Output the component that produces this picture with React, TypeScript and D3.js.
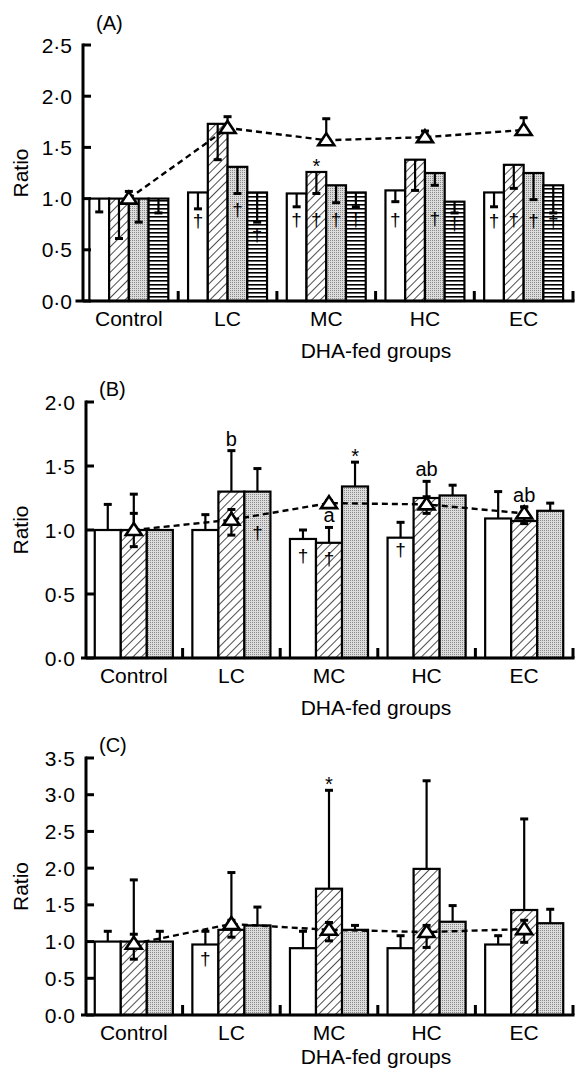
import React from 'react';
import * as d3 from 'd3';

const FONT = '"Liberation Sans", Arial, Helvetica, sans-serif';

const groups = ['Control', 'LC', 'MC', 'HC', 'EC'];

// ---------- Panel A (4 bars per group; error bars point down into the bars) ----------
const aWhite = [1.0, 1.06, 1.05, 1.08, 1.06];
const aWhiteErr = [0.87, 0.9, 0.92, 0.97, 0.92];
const aWhiteDag = [null, 0.78, 0.79, 0.79, 0.78];
const aHatch = [1.0, 1.73, 1.26, 1.38, 1.33];
const aHatchErr = [0.61, 1.38, 1.05, 1.08, 1.1];
const aHatchDag = [null, null, 0.79, null, 0.79];
const aDot = [1.0, 1.31, 1.13, 1.25, 1.25];
const aDotErr = [0.77, 1.05, 0.96, 1.13, 0.99];
const aDotDag = [null, 0.89, 0.79, 0.8, 0.78];
const aStripe = [1.0, 1.06, 1.06, 0.97, 1.13];
const aStripeErr = [0.86, 0.77, 0.92, 0.86, 0.86];
const aStripeDag = [null, 0.64, 0.79, 0.75, 0.77];
const aLine = [1.0, 1.69, 1.57, 1.6, 1.67];
const aLineLo = [1.0, 1.69, 1.57, 1.6, 1.67];
const aLineHi = [1.07, 1.8, 1.78, 1.66, 1.79];
const aHatchStar = ['', '', '*', '', ''];
const aTicks = [0, 0.5, 1, 1.5, 2, 2.5];

// ---------- Panel B (3 bars per group) ----------
const bWhite = [1.0, 1.0, 0.93, 0.94, 1.09];
const bWhiteErr = [1.2, 1.12, 1.0, 1.06, 1.3];
const bWhiteDag = [null, null, 0.8, 0.84, null];
const bHatch = [1.0, 1.3, 0.9, 1.25, 1.07];
const bHatchErr = [1.28, 1.62, 1.02, 1.38, 1.18];
const bHatchDag = [null, null, 0.77, null, null];
const bHatchLetters = ['', 'b', 'a', 'ab', 'ab'];
const bDot = [1.0, 1.3, 1.34, 1.27, 1.15];
const bDotErr = [1.0, 1.48, 1.53, 1.35, 1.21];
const bDotDag = [null, 0.98, null, null, null];
const bDotStar = ['', '', '*', '', ''];
const bLine = [1.0, 1.08, 1.21, 1.2, 1.13];
const bLineLo = [0.87, 0.96, 1.19, 1.13, 1.05];
const bLineHi = [1.13, 1.16, 1.23, 1.26, 1.18];
const bTicks = [0, 0.5, 1, 1.5, 2];

// ---------- Panel C (3 bars per group) ----------
const cWhite = [1.0, 0.96, 0.91, 0.91, 0.96];
const cWhiteErr = [1.14, 1.14, 1.14, 1.08, 1.08];
const cWhiteDag = [null, 0.76, null, null, null];
const cHatch = [1.0, 1.16, 1.72, 1.99, 1.43];
const cHatchErr = [1.84, 1.94, 3.06, 3.19, 2.67];
const cHatchStar = ['', '', '*', '', ''];
const cDot = [1.0, 1.22, 1.16, 1.27, 1.25];
const cDotErr = [1.14, 1.47, 1.22, 1.49, 1.44];
const cLine = [0.97, 1.24, 1.16, 1.13, 1.17];
const cLineLo = [0.76, 1.06, 1.01, 0.92, 0.99];
const cLineHi = [1.1, 1.29, 1.26, 1.22, 1.29];
const cTicks = [0, 0.5, 1, 1.5, 2, 2.5, 3, 3.5];

const fmt = (v: number) => d3.format('.1f')(v).replace('.', '\u00b7');

type Series = {
  fill: string;
  vals: number[];
  err: (number | null)[];
  dag?: (number | null)[];
  top?: string[];
  star?: string[];
  starRef?: 'bar' | 'err';
};

type PanelProps = {
  label: string;
  yBottom: number;
  yTop: number;
  yMax: number;
  ticks: number[];
  axisX: number;
  xStart: number;
  xEnd: number;
  series: Series[];
  line: number[];
  lineLo: number[];
  lineHi: number[];
  labelY: number;
};

function Panel(p: PanelProps) {
  const y = d3.scaleLinear().domain([0, p.yMax]).range([p.yBottom, p.yTop]);
  const x = d3.scaleBand<string>().domain(groups).range([p.xStart, p.xEnd]);
  const bw = x.bandwidth();
  const inner = d3
    .scaleBand<number>()
    .domain(d3.range(p.series.length))
    .range([bw * 0.1, bw * 0.9]);
  const w = inner.bandwidth();
  const cx = (g: string) => (x(g) as number) + bw / 2;
  const lineGen = d3
    .line<number>()
    .x((_, i) => cx(groups[i]))
    .y((d) => y(d));
  const capW = 4;
  const tri = (px: number, py: number) =>
    `M${px},${py - 7} L${px + 8},${py + 5} L${px - 8},${py + 5} Z`;
  const mid = (p.yBottom + p.yTop) / 2;

  return (
    <g>
      {p.series.map((s, si) =>
        s.vals.map((v, gi) => {
          const bx = (x(groups[gi]) as number) + (inner(si) as number);
          return (
            <rect
              key={`b${si}-${gi}`}
              x={bx}
              y={y(v)}
              width={w}
              height={y(0) - y(v)}
              fill={s.fill}
              stroke="#000"
              strokeWidth={2.2}
            />
          );
        })
      )}
      {p.series.map((s, si) =>
        s.vals.map((v, gi) => {
          const e = s.err[gi];
          if (e == null || Math.abs(e - v) < 0.005) return null;
          const bx = (x(groups[gi]) as number) + (inner(si) as number) + w / 2;
          return (
            <g key={`e${si}-${gi}`}>
              <line x1={bx} x2={bx} y1={y(v)} y2={y(e)} stroke="#000" strokeWidth={2.2} />
              <line x1={bx - capW} x2={bx + capW} y1={y(e)} y2={y(e)} stroke="#000" strokeWidth={3} />
            </g>
          );
        })
      )}
      {p.series.map((s, si) =>
        (s.dag || []).map((d, gi) => {
          if (d == null) return null;
          const bx = (x(groups[gi]) as number) + (inner(si) as number) + w / 2;
          return (
            <text
              key={`d${si}-${gi}`}
              x={bx}
              y={y(d) + 6}
              textAnchor="middle"
              fontSize={19}
              fontFamily={FONT}
              fill="#000"
            >
              {'\u2020'}
            </text>
          );
        })
      )}
      {p.series.map((s, si) =>
        (s.top || []).map((t, gi) => {
          if (!t) return null;
          const bx = (x(groups[gi]) as number) + (inner(si) as number) + w / 2;
          const e = s.err[gi] ?? s.vals[gi];
          return (
            <text key={`t${si}-${gi}`} x={bx} y={y(e) - 5} textAnchor="middle" fontSize={20} fontFamily={FONT}>
              {t}
            </text>
          );
        })
      )}
      {p.series.map((s, si) =>
        (s.star || []).map((t, gi) => {
          if (!t) return null;
          const bx = (x(groups[gi]) as number) + (inner(si) as number) + w / 2;
          const ref = s.starRef === 'bar' ? s.vals[gi] : (s.err[gi] ?? s.vals[gi]);
          return (
            <text key={`s${si}-${gi}`} x={bx} y={y(ref) + 1} textAnchor="middle" fontSize={20} fontFamily={FONT}>
              {t}
            </text>
          );
        })
      )}
      <path d={lineGen(p.line) || ''} fill="none" stroke="#000" strokeWidth={2.4} strokeDasharray="6,4" />
      {p.line.map((v, gi) => {
        const px = cx(groups[gi]);
        const lo = p.lineLo[gi];
        const hi = p.lineHi[gi];
        return (
          <g key={`l${gi}`}>
            {hi - v > 0.005 && (
              <g>
                <line x1={px} x2={px} y1={y(v)} y2={y(hi)} stroke="#000" strokeWidth={2.2} />
                <line x1={px - capW} x2={px + capW} y1={y(hi)} y2={y(hi)} stroke="#000" strokeWidth={3} />
              </g>
            )}
            {v - lo > 0.005 && (
              <g>
                <line x1={px} x2={px} y1={y(v)} y2={y(lo)} stroke="#000" strokeWidth={2.2} />
                <line x1={px - capW} x2={px + capW} y1={y(lo)} y2={y(lo)} stroke="#000" strokeWidth={3} />
              </g>
            )}
            <path d={tri(px, y(v))} fill="#fff" stroke="#000" strokeWidth={2.6} strokeLinejoin="miter" />
          </g>
        );
      })}
      <line x1={p.axisX} x2={p.axisX} y1={y(p.yMax) - 1.5} y2={y(0)} stroke="#000" strokeWidth={3} />
      {p.ticks.map((t) => (
        <g key={`yt${t}`}>
          <line x1={p.axisX} x2={p.axisX + 8} y1={y(t)} y2={y(t)} stroke="#000" strokeWidth={3} />
          <text
            x={p.axisX - 11}
            y={y(t)}
            dy="0.36em"
            textAnchor="end"
            fontSize={21}
            fontFamily={FONT}
          >
            {fmt(t)}
          </text>
        </g>
      ))}
      <line x1={p.xStart - 4} x2={p.xEnd + 1.5} y1={y(0)} y2={y(0)} stroke="#000" strokeWidth={3} />
      {groups.map((g) => (
        <g key={`xt${g}`}>
          <line
            x1={(x(g) as number) + bw}
            x2={(x(g) as number) + bw}
            y1={y(0)}
            y2={y(0) - 10}
            stroke="#000"
            strokeWidth={3}
          />
          <text x={cx(g)} y={y(0) + 25} textAnchor="middle" fontSize={21} fontFamily={FONT}>
            {g}
          </text>
        </g>
      ))}
      <text x={376} y={Math.min(y(0) + 57, 1064)} textAnchor="middle" fontSize={21} fontFamily={FONT}>
        DHA-fed groups
      </text>
      <text
        transform={`translate(28,${mid}) rotate(-90)`}
        textAnchor="middle"
        fontSize={21}
        fontFamily={FONT}
      >
        Ratio
      </text>
      <text x={p.axisX + 13} y={p.labelY} fontSize={20} fontFamily={FONT}>
        {p.label}
      </text>
    </g>
  );
}

export default function App() {
  const WHITE = '#fff';
  const HATCH = 'url(#hatch)';
  const DOT = 'url(#stipple)';
  const STRIPE = 'url(#stripe)';

  const seriesA: Series[] = [
    { fill: WHITE, vals: aWhite, err: aWhiteErr, dag: aWhiteDag },
    { fill: HATCH, vals: aHatch, err: aHatchErr, dag: aHatchDag, star: aHatchStar, starRef: 'bar' },
    { fill: DOT, vals: aDot, err: aDotErr, dag: aDotDag },
    { fill: STRIPE, vals: aStripe, err: aStripeErr, dag: aStripeDag },
  ];
  const seriesB: Series[] = [
    { fill: WHITE, vals: bWhite, err: bWhiteErr, dag: bWhiteDag },
    { fill: HATCH, vals: bHatch, err: bHatchErr, dag: bHatchDag, top: bHatchLetters },
    { fill: DOT, vals: bDot, err: bDotErr, dag: bDotDag, star: bDotStar, starRef: 'err' },
  ];
  const seriesC: Series[] = [
    { fill: WHITE, vals: cWhite, err: cWhiteErr, dag: cWhiteDag },
    { fill: HATCH, vals: cHatch, err: cHatchErr, star: cHatchStar, starRef: 'err' },
    { fill: DOT, vals: cDot, err: cDotErr },
  ];

  return (
    <div style={{ position: 'absolute', left: 0, top: 0, opacity: 0.999 }}>
      <svg width={576} height={1070} style={{ display: 'block', background: '#fff' }}>
        <defs>
          <pattern id="hatch" patternUnits="userSpaceOnUse" width={6} height={6} patternTransform="rotate(45)">
            <rect width={6} height={6} fill="#fff" />
            <line x1={0} y1={0} x2={0} y2={6} stroke="#000" strokeWidth={1.4} />
          </pattern>
          <pattern id="stipple" patternUnits="userSpaceOnUse" width={2} height={2}>
            <rect width={2} height={2} fill="#dcdcdc" />
            <rect width={1} height={1} fill="#8a8a8a" />
          </pattern>
          <pattern id="stripe" patternUnits="userSpaceOnUse" width={4} height={4}>
            <rect width={4} height={4} fill="#fff" />
            <line x1={0} y1={0.8} x2={4} y2={0.8} stroke="#000" strokeWidth={1.6} />
          </pattern>
        </defs>
        <Panel
          label="(A)"
          yBottom={301}
          yTop={45}
          yMax={2.5}
          ticks={aTicks}
          axisX={83}
          xStart={79.5}
          xEnd={573}
          series={seriesA}
          line={aLine}
          lineLo={aLineLo}
          lineHi={aLineHi}
          labelY={30}
        />
        <Panel
          label="(B)"
          yBottom={658}
          yTop={402}
          yMax={2}
          ticks={bTicks}
          axisX={86}
          xStart={85}
          xEnd={573}
          series={seriesB}
          line={bLine}
          lineLo={bLineLo}
          lineHi={bLineHi}
          labelY={396}
        />
        <Panel
          label="(C)"
          yBottom={1015}
          yTop={758}
          yMax={3.5}
          ticks={cTicks}
          axisX={86}
          xStart={85}
          xEnd={573}
          series={seriesC}
          line={cLine}
          lineLo={cLineLo}
          lineHi={cLineHi}
          labelY={752}
        />
      </svg>
    </div>
  );
}
